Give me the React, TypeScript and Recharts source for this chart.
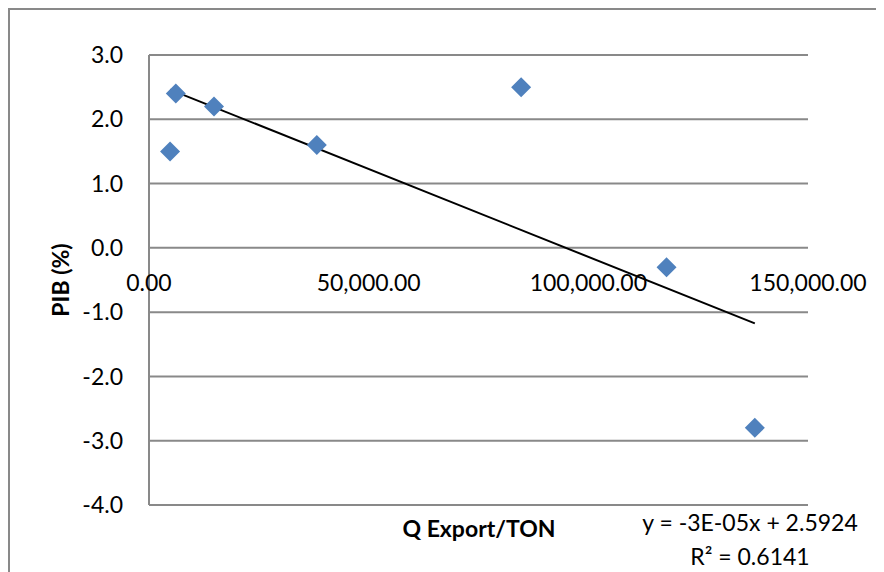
import { CartesianGrid, ReferenceLine, Scatter, ScatterChart, XAxis, YAxis } from 'recharts';

// export tonnage vs GDP growth
const qExport = [4800, 6100, 14800, 38200, 84700, 117800, 137900];
const pib = [1.5, 2.4, 2.2, 1.6, 2.5, -0.3, -2.8];

const xTicks = [0, 50000, 100000, 150000];
const yTicks = [-4, -3, -2, -1, 0, 1, 2, 3];

const Y_MIN = -4;
const Y_MAX = 3;
const PLOT_H = 450;
const GRID = '#898989';

const points = qExport.map((q, i) => ({ q, pib: pib[i] }));

// least squares trendline
const n = qExport.length;
const mx = qExport.reduce((a, b) => a + b, 0) / n;
const my = pib.reduce((a, b) => a + b, 0) / n;
const sxy = qExport.reduce((a, x, i) => a + (x - mx) * (pib[i] - my), 0);
const sxx = qExport.reduce((a, x) => a + (x - mx) * (x - mx), 0);
const slope = sxy / sxx;
const intercept = my - slope * mx;
const xLo = Math.min(...qExport);
const xHi = Math.max(...qExport);

const fmtX = (v: number) =>
    v.toLocaleString('en-US', { minimumFractionDigits: 2, maximumFractionDigits: 2 });

// x labels sit under the zero line, not at the bottom
function XTick(props: any) {
    const { x, y, payload } = props;
    const zeroY = y - (PLOT_H * (0 - Y_MIN)) / (Y_MAX - Y_MIN);
    return (
        <text x={x} y={zeroY + 43} textAnchor="middle" fill="#000" fontSize={23}>
            {fmtX(payload.value)}
        </text>
    );
}

function Diamond(props: any) {
    const { cx, cy } = props;
    const r = 10;
    return (
        <polygon
            points={`${cx},${cy - r} ${cx + r},${cy} ${cx},${cy + r} ${cx - r},${cy}`}
            fill="#4F81BD"
        />
    );
}

const text = { position: 'absolute' as const, color: '#000', lineHeight: 1, whiteSpace: 'nowrap' as const };

export default function App() {
    return (
        <div
            style={{
                position: 'relative',
                width: 874,
                height: 562,
                borderLeft: `2px solid ${GRID}`,
                borderTop: `2px solid ${GRID}`,
                fontFamily: 'Lato',
                background: '#fff',
            }}
        >
            <ScatterChart width={874} height={562} margin={{ top: 45, right: 76, bottom: 37, left: 79 }}>
                <CartesianGrid vertical={false} stroke={GRID} strokeWidth={2} />
                <XAxis
                    type="number"
                    dataKey="q"
                    domain={[0, 150000]}
                    ticks={xTicks}
                    axisLine={false}
                    tickLine={false}
                    tickSize={0}
                    tickMargin={0}
                    height={30}
                    tick={<XTick />}
                />
                <YAxis
                    type="number"
                    dataKey="pib"
                    domain={[Y_MIN, Y_MAX]}
                    ticks={yTicks}
                    width={60}
                    axisLine={{ stroke: GRID, strokeWidth: 2 }}
                    tickLine={false}
                    tickSize={0}
                    tickMargin={26}
                    tickFormatter={(v: number) => v.toFixed(1)}
                    tick={{ fill: '#000', fontSize: 23 }}
                />
                <Scatter data={points} shape={<Diamond />} isAnimationActive={false} />
                <ReferenceLine
                    segment={[
                        { x: xLo, y: intercept + slope * xLo },
                        { x: xHi, y: intercept + slope * xHi },
                    ]}
                    stroke="#000"
                    strokeWidth={2}
                />
            </ScatterChart>
            <div
                style={{
                    ...text,
                    left: 50,
                    top: 270,
                    fontSize: 23,
                    fontWeight: 700,
                    transform: 'translate(-50%, -50%) rotate(-90deg)',
                }}
            >
                PIB (%)
            </div>
            <div style={{ ...text, left: 469, top: 518, fontSize: 23, fontWeight: 700, transform: 'translate(-50%, -50%)' }}>
                Q Export/TON
            </div>
            <div style={{ ...text, left: 740, top: 512, fontSize: 23, transform: 'translate(-50%, -50%)' }}>
                y = -3E-05x + 2.5924
            </div>
            <div style={{ ...text, left: 740, top: 546, fontSize: 23, transform: 'translate(-50%, -50%)' }}>
                R² = 0.6141
            </div>
        </div>
    );
}
